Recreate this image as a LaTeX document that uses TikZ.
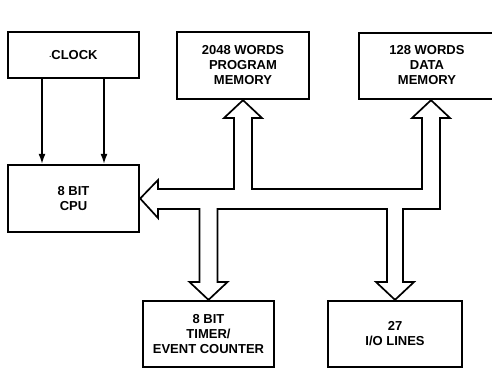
\documentclass[tikz,border=0pt]{standalone}
\usepackage{fontspec}
\setmainfont{Liberation Sans}
\usetikzlibrary{arrows.meta}
\begin{document}
\begin{tikzpicture}[x=1pt,y=-1pt,
  blk/.style={draw, line width=2.3pt, inner sep=0pt, align=center,
    font=\fontsize{13}{15}\selectfont\bfseries},
  bus/.style={draw, line width=1.7pt, line join=miter},
  clk/.style={line width=1.5pt, -{Latex[length=10pt,width=7pt]}}]
\useasboundingbox (0,0) rectangle (492,368);
\node[blk, minimum width=131pt, minimum height=46pt] (clock) at (73.5,55) {{\raisebox{0.3ex}{\fontsize{7}{7}\selectfont.}}CLOCK};
\node[blk, minimum width=131pt, minimum height=67pt] (cpu) at (73.5,198.5) {8 BIT\\CPU};
\node[blk, minimum width=132pt, minimum height=67pt] (prog) at (243,65.5) {2048 WORDS\\PROGRAM\\MEMORY};
\node[blk, minimum width=180pt, minimum height=66pt] (data) at (449,66) {\begin{tabular}{@{}c@{}}128 WORDS\\DATA\\MEMORY\end{tabular}\hspace*{44pt}};
\node[blk, minimum width=131pt, minimum height=66pt] (timer) at (208.5,334) {8 BIT\\TIMER/\\EVENT COUNTER};
\node[blk, minimum width=134pt, minimum height=66pt] (io) at (395,334) {27\\I/O LINES};
\coordinate (c1) at (42,0);
\coordinate (c2) at (104,0);
\coordinate (dtip) at (431,99);
\draw[clk] (clock.south -| c1) -- (cpu.north -| c1);
\draw[clk] (clock.south -| c2) -- (cpu.north -| c2);
\draw[bus] (cpu.east) -- (158,180) -- (158,189) -- (234,189) -- (234,118) -- (224,118)
  -- (prog.south) -- (262,118) -- (252,118) -- (252,189) -- (422,189) -- (422,118)
  -- (412,118) -- (data.south -| dtip) -- (450,118) -- (440,118) -- (440,209) -- (403,209)
  -- (403,282) -- (414,282) -- (io.north) -- (376,282) -- (387,282) -- (387,209)
  -- (217.5,209) -- (217.5,282) -- (227.5,282) -- (timer.north) -- (189.5,282)
  -- (199.5,282) -- (199.5,209) -- (158,209) -- (158,218) -- cycle;
\end{tikzpicture}
\end{document}
